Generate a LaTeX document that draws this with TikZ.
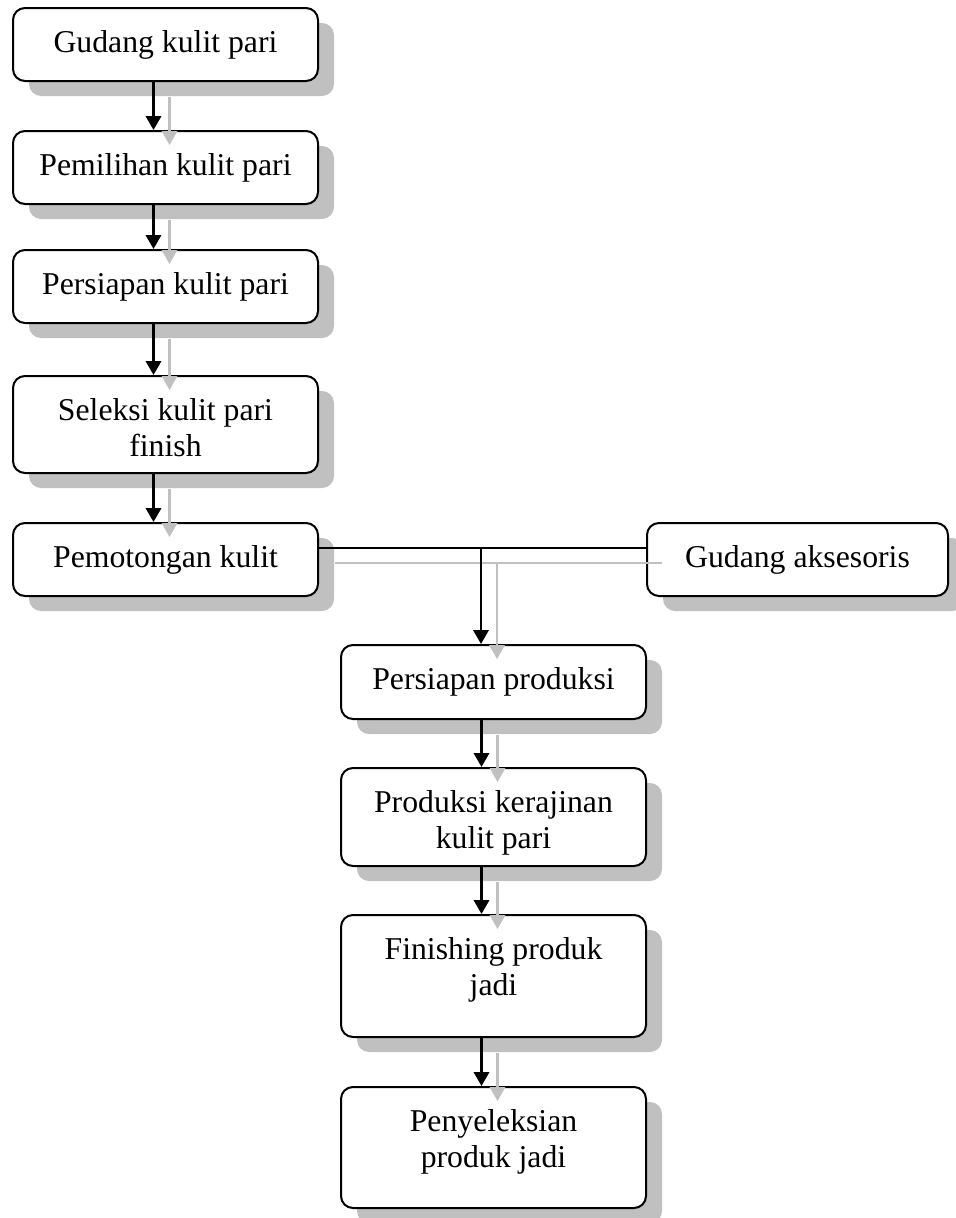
\documentclass[tikz,border=0pt]{standalone}
\usepackage{fontspec}
\setmainfont{Liberation Serif}
\usetikzlibrary{shadows,arrows.meta,calc}
\definecolor{shade}{HTML}{C0C0C0}
\begin{document}
\begin{tikzpicture}[x=0.75pt,y=-0.75pt,
  % box=<space below the last baseline>; the first baseline sits 33pt below the top edge
  box/.style={draw=black, line width=1.5pt, rounded corners=9pt, fill=white,
    minimum width=228.75pt, inner sep=0pt, align=center,
    text height=33pt, text depth=#1,
    font=\fontsize{23.8}{27.5}\selectfont,
    drop shadow={shadow xshift=12pt, shadow yshift=-11.25pt, fill=shade, opacity=1}},
  box/.default=21.75pt,
  % two-line boxes: the height is measured above the second baseline
  twoline/.style={box=#1, text height=60.5pt},
  flow/.style={draw=black, line width=1.9pt, -{Triangle[width=11.5pt,length=10.5pt]}},
  flowshade/.style={draw=shade, line width=1.6pt, -{Triangle[width=11.5pt,length=10.5pt]}}]
\useasboundingbox (0,0) rectangle (956,1218);

% left column
\node[box] (b1) at (165.5,44.5) {Gudang kulit pari};
\node[box] (b2) at (165.5,167.5) {Pemilihan kulit pari};
\node[box] (b3) at (165.5,286.5) {Persiapan kulit pari};
\node[twoline=12.25pt] (b4) at (165.5,424.5) {Seleksi kulit pari\\finish};
\node[box] (b5) at (165.5,559.5) {Pemotongan kulit};
% accessories store
\node[box, minimum width=225.75pt] (ga) at (797.5,559.5) {Gudang aksesoris};
% right column
\node[box=22.5pt] (b6) at (493.5,682) {Persiapan produksi};
\node[twoline=13pt] (b7) at (493.5,817) {Produksi kerajinan\\kulit pari};
\node[twoline=31pt] (b8) at (493.5,976) {Finishing produk\\jadi};
\node[twoline=30.25pt] (b9) at (493.5,1147.5) {Penyeleksian\\produk jadi};

% shadow copies of the connectors
\foreach \a/\b in {b1/b2,b2/b3,b3/b4,b4/b5,b6/b7,b7/b8,b8/b9}{
  \draw[flowshade] ([shift={(4,15)}]\a.south) -- ([shift={(4,15)}]\b.north);
}
\coordinate (j) at (481,548);
\coordinate (js) at (497,563);
\draw[draw=shade, line width=1.4pt] ($(b5.east |- js)+(16,0)$) -- ($(ga.west |- js)+(16,0)$);
\draw[flowshade] (js) -- ($(js |- b6.north)+(0,15)$);

% connectors
\foreach \a/\b in {b1/b2,b2/b3,b3/b4,b4/b5,b6/b7,b7/b8,b8/b9}{
  \draw[flow] ([shift={(-12,0)}]\a.south) -- ([shift={(-12,0)}]\b.north);
}
\draw[line width=1.3pt] (b5.east |- j) -- (ga.west |- j);
\draw[flow] (j) -- (j |- b6.north);
\end{tikzpicture}
\end{document}
